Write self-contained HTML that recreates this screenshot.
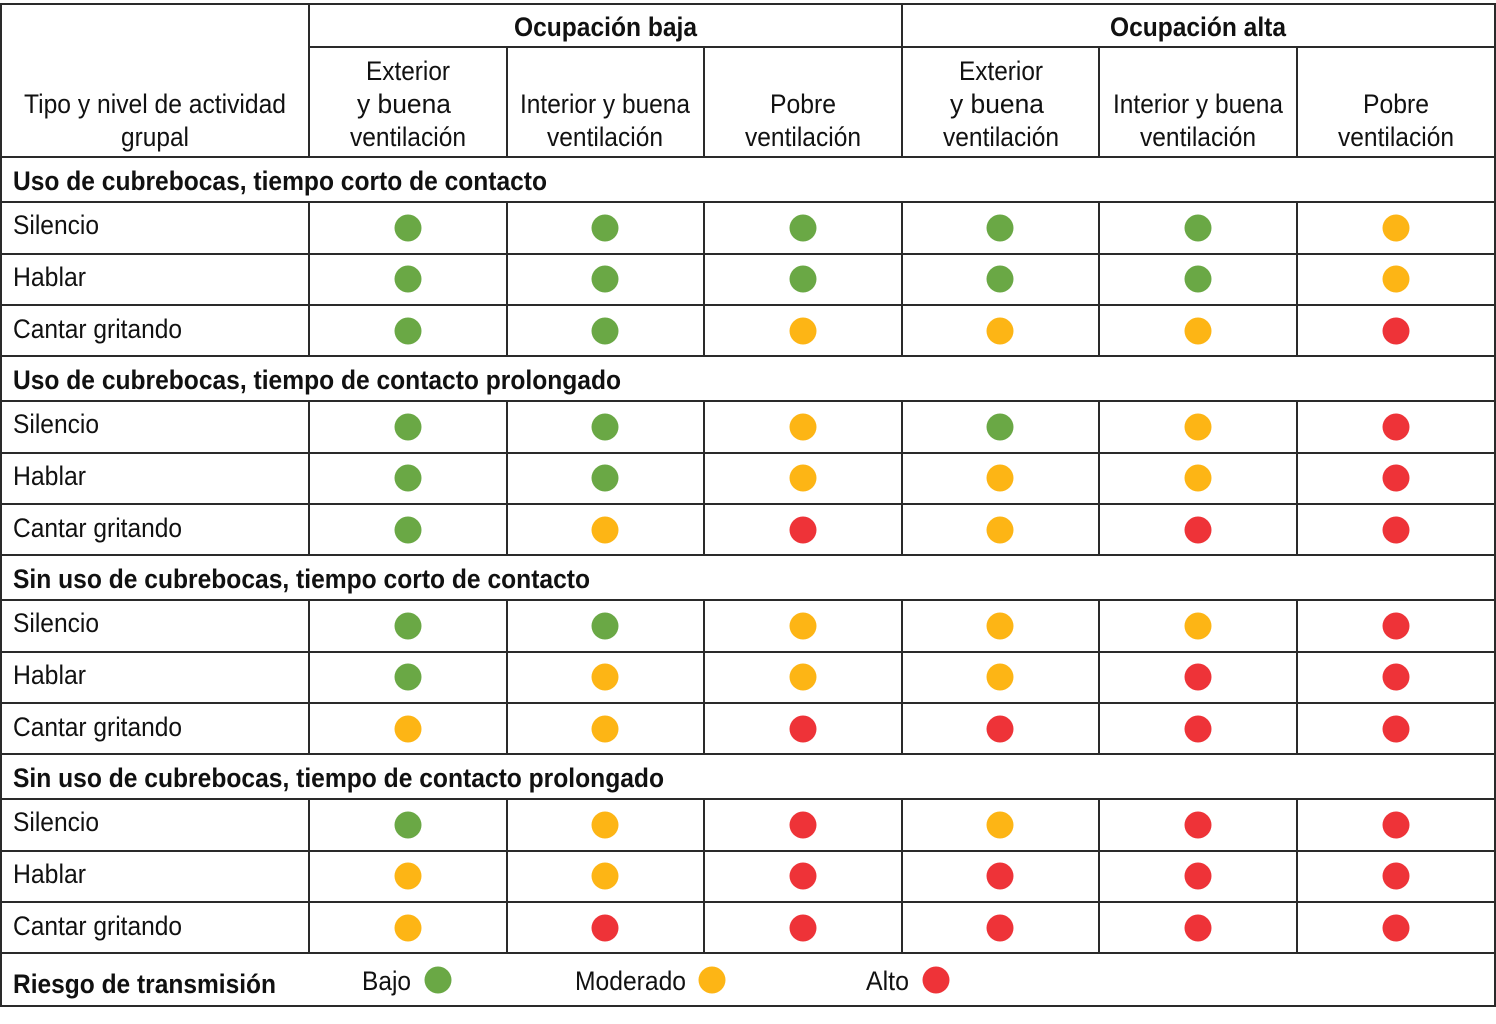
<!DOCTYPE html>
<html><head><meta charset="utf-8"><style>
html,body{margin:0;padding:0;background:#fff;}
svg{display:block;}
text{font-family:"Liberation Sans",sans-serif;font-size:27px;fill:#111;}
.b{font-weight:bold;}
</style></head><body>
<svg width="1496" height="1024" viewBox="0 0 1496 1024" xmlns="http://www.w3.org/2000/svg">
<rect x="0" y="0" width="1496" height="1024" fill="#fff"/>
<g stroke="#2a2a2a" stroke-width="2" fill="none">
<rect x="1" y="4" width="1494" height="1002"/>
<line x1="309" y1="47" x2="1495" y2="47"/>
<line x1="1" y1="157" x2="1495" y2="157"/>
<line x1="1" y1="202" x2="1495" y2="202"/>
<line x1="1" y1="254" x2="1495" y2="254"/>
<line x1="1" y1="305" x2="1495" y2="305"/>
<line x1="1" y1="356" x2="1495" y2="356"/>
<line x1="1" y1="401" x2="1495" y2="401"/>
<line x1="1" y1="453" x2="1495" y2="453"/>
<line x1="1" y1="504" x2="1495" y2="504"/>
<line x1="1" y1="555" x2="1495" y2="555"/>
<line x1="1" y1="600" x2="1495" y2="600"/>
<line x1="1" y1="652" x2="1495" y2="652"/>
<line x1="1" y1="703" x2="1495" y2="703"/>
<line x1="1" y1="754" x2="1495" y2="754"/>
<line x1="1" y1="799" x2="1495" y2="799"/>
<line x1="1" y1="851" x2="1495" y2="851"/>
<line x1="1" y1="902" x2="1495" y2="902"/>
<line x1="1" y1="953" x2="1495" y2="953"/>
<line x1="309" y1="4" x2="309" y2="157"/>
<line x1="902" y1="4" x2="902" y2="157"/>
<line x1="507" y1="47" x2="507" y2="157"/>
<line x1="704" y1="47" x2="704" y2="157"/>
<line x1="1099" y1="47" x2="1099" y2="157"/>
<line x1="1297" y1="47" x2="1297" y2="157"/>
<line x1="309" y1="202" x2="309" y2="356"/><line x1="507" y1="202" x2="507" y2="356"/><line x1="704" y1="202" x2="704" y2="356"/><line x1="902" y1="202" x2="902" y2="356"/><line x1="1099" y1="202" x2="1099" y2="356"/><line x1="1297" y1="202" x2="1297" y2="356"/>
<line x1="309" y1="401" x2="309" y2="555"/><line x1="507" y1="401" x2="507" y2="555"/><line x1="704" y1="401" x2="704" y2="555"/><line x1="902" y1="401" x2="902" y2="555"/><line x1="1099" y1="401" x2="1099" y2="555"/><line x1="1297" y1="401" x2="1297" y2="555"/>
<line x1="309" y1="600" x2="309" y2="754"/><line x1="507" y1="600" x2="507" y2="754"/><line x1="704" y1="600" x2="704" y2="754"/><line x1="902" y1="600" x2="902" y2="754"/><line x1="1099" y1="600" x2="1099" y2="754"/><line x1="1297" y1="600" x2="1297" y2="754"/>
<line x1="309" y1="799" x2="309" y2="953"/><line x1="507" y1="799" x2="507" y2="953"/><line x1="704" y1="799" x2="704" y2="953"/><line x1="902" y1="799" x2="902" y2="953"/><line x1="1099" y1="799" x2="1099" y2="953"/><line x1="1297" y1="799" x2="1297" y2="953"/>
</g>

<text class="b" x="514" y="36" textLength="183" lengthAdjust="spacingAndGlyphs">Ocupación baja</text>
<text class="b" x="1110" y="36" textLength="176" lengthAdjust="spacingAndGlyphs">Ocupación alta</text>
<text x="24" y="113" textLength="262" lengthAdjust="spacingAndGlyphs">Tipo y nivel de actividad</text>
<text x="121" y="146" textLength="68" lengthAdjust="spacingAndGlyphs">grupal</text>

<text x="366" y="80" textLength="84" lengthAdjust="spacingAndGlyphs">Exterior</text>
<text x="357" y="113" textLength="94" lengthAdjust="spacingAndGlyphs">y buena</text>
<text x="350" y="146" textLength="116" lengthAdjust="spacingAndGlyphs">ventilación</text>
<text x="520" y="113" textLength="170" lengthAdjust="spacingAndGlyphs">Interior y buena</text>
<text x="547" y="146" textLength="116" lengthAdjust="spacingAndGlyphs">ventilación</text>
<text x="770" y="113" textLength="66" lengthAdjust="spacingAndGlyphs">Pobre</text>
<text x="745" y="146" textLength="116" lengthAdjust="spacingAndGlyphs">ventilación</text>

<text x="959" y="80" textLength="84" lengthAdjust="spacingAndGlyphs">Exterior</text>
<text x="950" y="113" textLength="94" lengthAdjust="spacingAndGlyphs">y buena</text>
<text x="943" y="146" textLength="116" lengthAdjust="spacingAndGlyphs">ventilación</text>
<text x="1113" y="113" textLength="170" lengthAdjust="spacingAndGlyphs">Interior y buena</text>
<text x="1140" y="146" textLength="116" lengthAdjust="spacingAndGlyphs">ventilación</text>
<text x="1363" y="113" textLength="66" lengthAdjust="spacingAndGlyphs">Pobre</text>
<text x="1338" y="146" textLength="116" lengthAdjust="spacingAndGlyphs">ventilación</text>

<text class="b" x="13" y="190" textLength="534" lengthAdjust="spacingAndGlyphs">Uso de cubrebocas, tiempo corto de contacto</text>
<text class="b" x="13" y="389" textLength="608" lengthAdjust="spacingAndGlyphs">Uso de cubrebocas, tiempo de contacto prolongado</text>
<text class="b" x="13" y="588" textLength="577" lengthAdjust="spacingAndGlyphs">Sin uso de cubrebocas, tiempo corto de contacto</text>
<text class="b" x="13" y="787" textLength="651" lengthAdjust="spacingAndGlyphs">Sin uso de cubrebocas, tiempo de contacto prolongado</text>

<text x="13" y="234" textLength="86" lengthAdjust="spacingAndGlyphs">Silencio</text>
<text x="13" y="286" textLength="73" lengthAdjust="spacingAndGlyphs">Hablar</text>
<text x="13" y="338" textLength="169" lengthAdjust="spacingAndGlyphs">Cantar gritando</text>
<text x="13" y="433" textLength="86" lengthAdjust="spacingAndGlyphs">Silencio</text>
<text x="13" y="485" textLength="73" lengthAdjust="spacingAndGlyphs">Hablar</text>
<text x="13" y="537" textLength="169" lengthAdjust="spacingAndGlyphs">Cantar gritando</text>
<text x="13" y="632" textLength="86" lengthAdjust="spacingAndGlyphs">Silencio</text>
<text x="13" y="684" textLength="73" lengthAdjust="spacingAndGlyphs">Hablar</text>
<text x="13" y="736" textLength="169" lengthAdjust="spacingAndGlyphs">Cantar gritando</text>
<text x="13" y="831" textLength="86" lengthAdjust="spacingAndGlyphs">Silencio</text>
<text x="13" y="883" textLength="73" lengthAdjust="spacingAndGlyphs">Hablar</text>
<text x="13" y="935" textLength="169" lengthAdjust="spacingAndGlyphs">Cantar gritando</text>

<g>
<circle cx="408" cy="228" r="13.5" fill="#6aa845"/><circle cx="605" cy="228" r="13.5" fill="#6aa845"/><circle cx="803" cy="228" r="13.5" fill="#6aa845"/><circle cx="1000" cy="228" r="13.5" fill="#6aa845"/><circle cx="1198" cy="228" r="13.5" fill="#6aa845"/><circle cx="1396" cy="228" r="13.5" fill="#fdb515"/>
<circle cx="408" cy="279" r="13.5" fill="#6aa845"/><circle cx="605" cy="279" r="13.5" fill="#6aa845"/><circle cx="803" cy="279" r="13.5" fill="#6aa845"/><circle cx="1000" cy="279" r="13.5" fill="#6aa845"/><circle cx="1198" cy="279" r="13.5" fill="#6aa845"/><circle cx="1396" cy="279" r="13.5" fill="#fdb515"/>
<circle cx="408" cy="331" r="13.5" fill="#6aa845"/><circle cx="605" cy="331" r="13.5" fill="#6aa845"/><circle cx="803" cy="331" r="13.5" fill="#fdb515"/><circle cx="1000" cy="331" r="13.5" fill="#fdb515"/><circle cx="1198" cy="331" r="13.5" fill="#fdb515"/><circle cx="1396" cy="331" r="13.5" fill="#ee3338"/>
<circle cx="408" cy="427" r="13.5" fill="#6aa845"/><circle cx="605" cy="427" r="13.5" fill="#6aa845"/><circle cx="803" cy="427" r="13.5" fill="#fdb515"/><circle cx="1000" cy="427" r="13.5" fill="#6aa845"/><circle cx="1198" cy="427" r="13.5" fill="#fdb515"/><circle cx="1396" cy="427" r="13.5" fill="#ee3338"/>
<circle cx="408" cy="478" r="13.5" fill="#6aa845"/><circle cx="605" cy="478" r="13.5" fill="#6aa845"/><circle cx="803" cy="478" r="13.5" fill="#fdb515"/><circle cx="1000" cy="478" r="13.5" fill="#fdb515"/><circle cx="1198" cy="478" r="13.5" fill="#fdb515"/><circle cx="1396" cy="478" r="13.5" fill="#ee3338"/>
<circle cx="408" cy="530" r="13.5" fill="#6aa845"/><circle cx="605" cy="530" r="13.5" fill="#fdb515"/><circle cx="803" cy="530" r="13.5" fill="#ee3338"/><circle cx="1000" cy="530" r="13.5" fill="#fdb515"/><circle cx="1198" cy="530" r="13.5" fill="#ee3338"/><circle cx="1396" cy="530" r="13.5" fill="#ee3338"/>
<circle cx="408" cy="626" r="13.5" fill="#6aa845"/><circle cx="605" cy="626" r="13.5" fill="#6aa845"/><circle cx="803" cy="626" r="13.5" fill="#fdb515"/><circle cx="1000" cy="626" r="13.5" fill="#fdb515"/><circle cx="1198" cy="626" r="13.5" fill="#fdb515"/><circle cx="1396" cy="626" r="13.5" fill="#ee3338"/>
<circle cx="408" cy="677" r="13.5" fill="#6aa845"/><circle cx="605" cy="677" r="13.5" fill="#fdb515"/><circle cx="803" cy="677" r="13.5" fill="#fdb515"/><circle cx="1000" cy="677" r="13.5" fill="#fdb515"/><circle cx="1198" cy="677" r="13.5" fill="#ee3338"/><circle cx="1396" cy="677" r="13.5" fill="#ee3338"/>
<circle cx="408" cy="729" r="13.5" fill="#fdb515"/><circle cx="605" cy="729" r="13.5" fill="#fdb515"/><circle cx="803" cy="729" r="13.5" fill="#ee3338"/><circle cx="1000" cy="729" r="13.5" fill="#ee3338"/><circle cx="1198" cy="729" r="13.5" fill="#ee3338"/><circle cx="1396" cy="729" r="13.5" fill="#ee3338"/>
<circle cx="408" cy="825" r="13.5" fill="#6aa845"/><circle cx="605" cy="825" r="13.5" fill="#fdb515"/><circle cx="803" cy="825" r="13.5" fill="#ee3338"/><circle cx="1000" cy="825" r="13.5" fill="#fdb515"/><circle cx="1198" cy="825" r="13.5" fill="#ee3338"/><circle cx="1396" cy="825" r="13.5" fill="#ee3338"/>
<circle cx="408" cy="876" r="13.5" fill="#fdb515"/><circle cx="605" cy="876" r="13.5" fill="#fdb515"/><circle cx="803" cy="876" r="13.5" fill="#ee3338"/><circle cx="1000" cy="876" r="13.5" fill="#ee3338"/><circle cx="1198" cy="876" r="13.5" fill="#ee3338"/><circle cx="1396" cy="876" r="13.5" fill="#ee3338"/>
<circle cx="408" cy="928" r="13.5" fill="#fdb515"/><circle cx="605" cy="928" r="13.5" fill="#ee3338"/><circle cx="803" cy="928" r="13.5" fill="#ee3338"/><circle cx="1000" cy="928" r="13.5" fill="#ee3338"/><circle cx="1198" cy="928" r="13.5" fill="#ee3338"/><circle cx="1396" cy="928" r="13.5" fill="#ee3338"/>
</g>

<text class="b" x="13" y="993" textLength="263" lengthAdjust="spacingAndGlyphs">Riesgo de transmisión</text>
<text x="362" y="990" textLength="49" lengthAdjust="spacingAndGlyphs">Bajo</text>
<circle cx="438" cy="980" r="13.5" fill="#6aa845"/>
<text x="575" y="990" textLength="111" lengthAdjust="spacingAndGlyphs">Moderado</text>
<circle cx="712" cy="980" r="13.5" fill="#fdb515"/>
<text x="866" y="990" textLength="43" lengthAdjust="spacingAndGlyphs">Alto</text>
<circle cx="936" cy="980" r="13.5" fill="#ee3338"/>
</svg>
</body></html>
